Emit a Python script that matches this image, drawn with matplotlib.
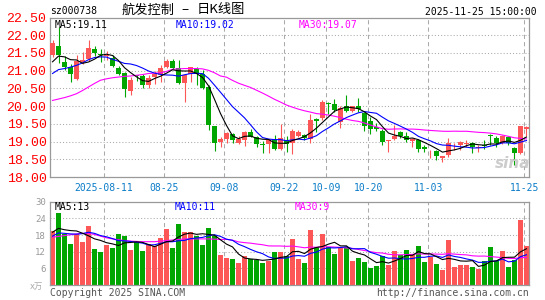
import matplotlib.pyplot as plt
import numpy as np
import pandas as pd

# daily candles of sz000738, 2025-07-29 .. 2025-11-25
opens = [21.44, 21.70, 21.24, 21.09, 20.77, 21.25, 21.32, 21.60, 21.46, 21.40,
         21.36, 21.08, 20.93, 20.44, 20.85, 20.85, 20.60, 20.82, 20.87, 21.10,
         21.26, 21.08, 20.66, 20.92, 21.06, 20.92, 20.54, 19.43, 18.98, 19.06,
         19.22, 18.95, 19.05, 19.28, 19.14, 18.93, 18.93, 19.08, 18.79, 19.03,
         18.95, 19.17, 19.19, 19.08, 19.63, 19.66, 20.08, 20.05, 19.55, 19.99,
         19.86, 19.99, 19.80, 19.59, 19.41, 19.31, 19.01, 19.08, 19.26, 19.17,
         19.01, 19.05, 18.86, 18.75, 18.72, 18.53, 18.62, 18.92, 18.89, 18.93,
         18.96, 18.81, 18.89, 19.17, 19.10, 18.95, 19.12, 18.81, 18.68, 19.36]
highs = [21.86, 22.22, 21.40, 21.20, 21.43, 21.52, 21.86, 21.70, 21.62, 21.55,
         21.45, 21.13, 20.96, 20.82, 20.87, 20.92, 20.87, 21.00, 21.15, 21.32,
         21.33, 21.29, 20.92, 21.10, 21.10, 21.01, 20.59, 19.43, 19.12, 19.28,
         19.24, 19.17, 19.31, 19.36, 19.17, 19.01, 19.08, 19.19, 19.50, 19.15,
         19.36, 19.33, 19.22, 19.78, 19.66, 20.16, 20.11, 20.21, 19.99, 20.30,
         20.00, 20.24, 19.83, 19.69, 19.52, 19.36, 19.05, 19.48, 19.31, 19.26,
         19.09, 19.08, 18.89, 18.77, 18.75, 18.60, 19.09, 18.95, 19.01, 19.03,
         18.98, 18.89, 19.03, 19.22, 19.17, 19.19, 19.17, 18.86, 19.45, 19.45]
lows = [21.39, 21.22, 21.01, 20.68, 20.75, 21.20, 21.27, 21.42, 21.25, 21.30,
        21.10, 20.87, 20.27, 20.30, 20.70, 20.50, 20.50, 20.62, 20.68, 21.08,
        21.05, 20.63, 20.11, 20.68, 20.59, 20.49, 19.33, 18.73, 18.86, 18.95,
        18.95, 18.93, 18.88, 19.12, 18.84, 18.67, 18.67, 18.76, 18.76, 18.70,
        18.65, 19.12, 19.03, 18.95, 19.26, 19.62, 19.78, 19.83, 19.39, 19.83,
        19.83, 19.83, 19.31, 19.22, 19.31, 18.89, 18.70, 19.03, 19.10, 18.98,
        18.84, 18.70, 18.70, 18.54, 18.48, 18.42, 18.56, 18.76, 18.76, 18.84,
        18.67, 18.70, 18.79, 18.90, 18.86, 18.93, 18.89, 18.35, 18.65, 19.17]
closes = [21.78, 21.45, 21.10, 20.90, 21.28, 21.31, 21.63, 21.50, 21.44, 21.44,
          21.13, 20.92, 20.49, 20.75, 20.84, 20.60, 20.80, 20.90, 21.08, 21.27,
          21.08, 20.65, 20.87, 21.09, 20.92, 20.51, 19.48, 18.96, 19.08, 19.24,
          19.05, 19.08, 19.28, 19.14, 18.92, 18.91, 19.05, 18.79, 19.09, 18.92,
          19.31, 19.28, 19.10, 19.62, 19.59, 20.11, 20.06, 19.90, 19.95, 19.86,
          20.00, 19.93, 19.45, 19.36, 19.36, 19.00, 19.03, 19.17, 19.17, 19.05,
          19.08, 18.79, 18.78, 18.76, 18.59, 18.59, 18.96, 18.93, 18.98, 18.96,
          18.84, 18.84, 18.87, 19.15, 18.95, 19.15, 18.96, 18.67, 19.45, 19.41]
# volume, 万手
volumes = [19.6, 25.9, 18.5, 14.8, 18.5, 15.5, 21.3, 13.0, 12.0, 14.4,
           13.3, 18.4, 17.8, 12.7, 15.5, 12.3, 14.6, 14.0, 17.0, 20.1,
           13.4, 21.9, 19.1, 19.1, 17.7, 14.5, 20.6, 17.7, 10.9, 9.9,
           9.5, 7.8, 10.5, 9.2, 9.1, 7.8, 8.8, 12.0, 12.0, 10.5,
           16.6, 9.5, 8.0, 19.8, 13.7, 18.4, 13.7, 11.3, 13.3, 13.8,
           8.8, 9.8, 8.4, 6.3, 7.0, 10.5, 7.3, 12.1, 10.7, 12.7,
           10.7, 14.1, 8.4, 10.1, 7.7, 5.5, 16.3, 6.5, 7.3, 7.3,
           6.5, 5.9, 8.8, 13.8, 8.5, 12.3, 6.5, 9.0, 23.4, 14.1]

# moving average values for the first bars (window reaches before the chart)
ma5_head = [21.25, 21.41, 21.39, 21.31]
ma10_head = [20.92, 21.03, 21.06, 21.10, 21.15, 21.22, 21.31, 21.37, 21.39]
ma30_head = [20.16, 20.20, 20.24, 20.29, 20.35, 20.44, 20.54, 20.64, 20.73, 20.77,
             20.80, 20.82, 20.84, 20.85, 20.87, 20.89, 20.92, 20.93, 20.94, 20.98,
             21.04, 21.05, 21.06, 21.06, 21.06, 21.05, 21.01, 20.94, 20.85]
vol_ma5_head = [19.0, 20.4, 19.9, 19.6]
vol_ma10_head = [17.6, 18.75, 18.6, 18.4, 18.3, 18.5, 19.0, 18.6, 17.8]
vol_ma30_head = [17.2, 17.5, 17.8, 18.1, 18.4, 18.6, 18.6, 18.2, 17.6, 17.0,
                 16.6, 16.3, 16.0, 15.8, 15.7, 15.6, 15.6, 15.6, 15.8, 16.0,
                 16.2, 16.4, 16.6, 16.6, 16.6, 16.6, 16.6, 16.5, 16.4]

date_labels = ['2025-08-11', '08-25', '09-08', '09-22', '10-09', '10-20', '11-03', '11-25']
date_index = [9, 19, 29, 39, 46, 53, 63, 79]
price_ticks = [18.0, 18.5, 19.0, 19.5, 20.0, 20.5, 21.0, 21.5, 22.0, 22.5]
vol_ticks = [6, 12, 18, 24, 30]
price_ma_text = ['MA5:19.11', 'MA10:19.02', 'MA30:19.07']
vol_ma_text = ['MA5:13', 'MA10:11', 'MA30:9']

RED = '#fd5656'
GREEN = '#00a600'
GRID = '#aaaaaa'
BORDER = '#999999'
MONO = 'DejaVu Sans Mono'


def moving_avg(values, n, head):
    s = pd.Series(values).rolling(n).mean()
    s.iloc[:len(head)] = head
    return s.values


x = np.arange(len(closes))
up = np.array(closes) >= np.array(opens)
colors = [RED if u else GREEN for u in up]

W, H = 545, 300
fig = plt.figure(figsize=(W / 100, H / 100), dpi=100)
fig.patch.set_facecolor('white')

ax = fig.add_axes([50 / W, 1 - 177 / H, 479 / W, 159.5 / H])
axv = fig.add_axes([50 / W, 1 - 285 / H, 479 / W, 83.3 / H])

for a in (ax, axv):
    a.set_xlim(-0.42, 79.42)
    for sp in a.spines.values():
        sp.set_color(BORDER)
        sp.set_linewidth(0.9)
    for d in date_index:
        a.axvline(d - 0.4, color=GRID, lw=0.75, ls=(0, (4, 3)), zorder=1)

# price panel
ax.set_ylim(18.0, 22.5)
for t in price_ticks[1:-1]:
    ax.axhline(t, color=GRID, lw=0.75, ls=(0, (1, 2)), zorder=1)
ax.vlines(x, lows, highs, colors=colors, lw=0.8, zorder=3)
body_h = np.maximum(np.abs(np.array(closes) - np.array(opens)), 0.025)
body_b = np.minimum(opens, closes)
ax.bar(x, body_h, bottom=body_b, width=0.8, color=colors, zorder=3, linewidth=0)

ax.plot(x, moving_avg(closes, 30, ma30_head), color='#ff00ff', lw=0.8, zorder=4)
ax.plot(x, moving_avg(closes, 10, ma10_head), color='#0000ff', lw=0.8, zorder=4)
ax.plot(x, moving_avg(closes, 5, ma5_head), color='black', lw=0.8, zorder=5)

ax.set_yticks(price_ticks)
ax.set_yticklabels(['%.2f' % t for t in price_ticks], color='red',
                   family='Liberation Mono', fontsize=9.5)
ax.set_xticks([d - 0.4 for d in date_index])
ax.set_xticklabels(date_labels, color='#0a7cc8', family=MONO, fontsize=7)
ax.tick_params(axis='both', length=0)
ax.tick_params(axis='y', pad=2.5)
ax.tick_params(axis='x', pad=4)

# volume panel
axv.set_ylim(0, 30)
for t in vol_ticks[:-1]:
    axv.axhline(t, color=GRID, lw=0.75, ls=(0, (1, 2)), zorder=1)
axv.bar(x, volumes, width=0.8, color=colors, zorder=2, linewidth=0)
axv.plot(x, moving_avg(volumes, 30, vol_ma30_head), color='#ff00ff', lw=0.8, zorder=4)
axv.plot(x, moving_avg(volumes, 10, vol_ma10_head), color='#0000ff', lw=0.8, zorder=4)
axv.plot(x, moving_avg(volumes, 5, vol_ma5_head), color='black', lw=0.8, zorder=5)
axv.set_yticks(vol_ticks)
axv.set_yticklabels([str(t) for t in vol_ticks], color='#999999', family=MONO, fontsize=6.5)
axv.set_xticks([])
axv.tick_params(axis='y', length=0, pad=3)


def ftext(px, py, s, **kw):
    fig.text(px / W, 1 - py / H, s, va='center', **kw)


# header
ftext(50, 11, 'sz000738', family=MONO, fontsize=7, color='black')
ftext(122, 10, '航发控制', family='Noto Sans CJK SC', fontsize=9.5, color='black')
ftext(181, 10, '–', family='Noto Sans CJK SC', fontsize=9.5, color='black')
ftext(197, 10, '日K线图', family='Noto Sans CJK SC', fontsize=9.5, color='black')
ftext(537, 12, '2025-11-25 15:00:00', family=MONO, fontsize=7, color='black', ha='right')

# legends
ma_colors = ['black', '#0000ff', '#ff00ff']
for px, s, c in zip([55, 176, 299], price_ma_text, ma_colors):
    ftext(px, 24.5, s, family=MONO, fontsize=7, color=c)
for px, s, c in zip([55, 175, 295], vol_ma_text, ma_colors):
    ftext(px, 207, s, family=MONO, fontsize=7, color=c)

# footer
ftext(30, 286, 'x万', family=['DejaVu Sans', 'Noto Sans CJK SC'], fontsize=6, color='#aaaaaa')
ftext(50, 293, 'Copyright 2025 SINA.COM', family=MONO, fontsize=7, color='#555555')
ftext(529, 293, 'http://finance.sina.com.cn', family=MONO, fontsize=7, color='#555555', ha='right')

# watermark
ftext(513, 163, 'sina', family='DejaVu Sans', fontsize=11, color='#cccccc',
      style='italic', weight='bold', ha='center', zorder=0)

fig.savefig('out.png', dpi=100)
